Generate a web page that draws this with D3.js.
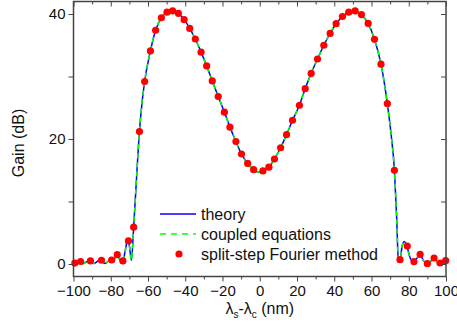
<!DOCTYPE html>
<html>
<head>
<meta charset="utf-8">
<script src="https://cdn.jsdelivr.net/npm/d3@7"></script>
<style>
  html, body { margin: 0; padding: 0; background: #fff; }
  svg { display: block; font-family: "Liberation Sans", Arial, sans-serif; }
</style>
</head>
<body>
<svg id="chart" width="457" height="333"></svg>
<script>
// Signal detuning (nm) and gain (dB) of the parametric amplifier

// theory curve
const theoryX = [-100, -97.5, -95, -92, -89, -86, -83, -80.5, -79, -76.8, -75, -73.6, -72.3, -71, -70, -68.9,
  -67.7, -66.2, -64.6, -63.2, -61.8, -58.7, -55.9, -52.8, -49.8, -46.8, -43.7, -40.6, -37.6, -34.6, -31.5,
  -28.5, -25.5, -22.3, -19.0, -16.0, -12.8, -9.8, -6.5, -3.3, -0.8, 1.7, 4.9, 7.9, 11.2, 14.4, 17.6, 21.3,
  24.4, 27.6, 31.0, 34.4, 37.8, 41.0, 44.4, 47.8, 51.2, 54.6, 58.2, 61.6, 65.1, 68.5, 70.5, 72.3, 73.5,
  74.4, 75.3, 76.3, 77.5, 78.8, 80.5, 82.2, 83.8, 86, 88, 90, 92, 93.6, 95.3, 97, 99, 100];
const theoryGain = [0.05, 0.35, 0.05, 0.45, 0.1, 0.6, 0.1, 0.6, 0.3, 1.5, 0.6, 0.4, 2.0, 3.8, 2.9, 0.6,
  5.9, 13.5, 21.2, 25.8, 29.2, 34.1, 37.4, 39.4, 40.3, 40.5, 40.1, 39.1, 37.7, 36.0, 33.9,
  31.7, 29.3, 26.8, 24.3, 21.9, 19.6, 17.6, 16.1, 15.1, 14.7, 14.9, 15.5, 16.8, 18.6, 20.7, 23.0, 25.4,
  28.05, 30.5, 32.8, 35.0, 36.9, 38.45, 39.6, 40.3, 40.5, 39.9, 38.5, 35.95, 31.97, 25.66, 20.8, 15.0, 7.5,
  0.8, 0.6, 2.6, 3.6, 3.1, 1.2, 0.35, 0.7, 1.5, 0.5, 0.05, 0.5, 0.95, 0.3, 0.15, 0.45, 0.6];

// coupled-equation model (agrees with theory to drawing precision)
const coupledX = [-100, -97.5, -95, -92, -89, -86, -83, -80.5, -79, -76.8, -75, -73.6, -72.3, -71, -70, -68.9,
  -67.7, -66.2, -64.6, -63.2, -61.8, -58.7, -55.9, -52.8, -49.8, -46.8, -43.7, -40.6, -37.6, -34.6, -31.5,
  -28.5, -25.5, -22.3, -19.0, -16.0, -12.8, -9.8, -6.5, -3.3, -0.8, 1.7, 4.9, 7.9, 11.2, 14.4, 17.6, 21.3,
  24.4, 27.6, 31.0, 34.4, 37.8, 41.0, 44.4, 47.8, 51.2, 54.6, 58.2, 61.6, 65.1, 68.5, 70.5, 72.3, 73.5,
  74.4, 75.3, 76.3, 77.5, 78.8, 80.5, 82.2, 83.8, 86, 88, 90, 92, 93.6, 95.3, 97, 99, 100];
const coupledGain = [0.05, 0.35, 0.05, 0.45, 0.1, 0.6, 0.1, 0.6, 0.3, 1.5, 0.6, 0.4, 2.0, 3.8, 2.9, 0.6,
  5.9, 13.5, 21.2, 25.8, 29.2, 34.1, 37.4, 39.4, 40.3, 40.5, 40.1, 39.1, 37.7, 36.0, 33.9,
  31.7, 29.3, 26.8, 24.3, 21.9, 19.6, 17.6, 16.1, 15.1, 14.7, 14.9, 15.5, 16.8, 18.6, 20.7, 23.0, 25.4,
  28.05, 30.5, 32.8, 35.0, 36.9, 38.45, 39.6, 40.3, 40.5, 39.9, 38.5, 35.95, 31.97, 25.66, 20.8, 15.0, 7.5,
  0.8, 0.6, 2.6, 3.6, 3.1, 1.2, 0.35, 0.7, 1.5, 0.5, 0.05, 0.5, 0.95, 0.3, 0.15, 0.45, 0.6];

// split-step Fourier simulation points
const ssfX = [-99.3, -96.2, -90.9, -85.0, -79.5, -76.5, -73.5, -70.5, -67.7, -64.6, -61.8, -58.7, -55.9,
  -52.8, -49.8, -46.8, -43.7, -40.6, -37.6, -34.6, -31.5, -28.5, -25.5, -22.3, -19.0, -16.0, -12.8, -9.8,
  -6.5, -3.3, 1.7, 4.9, 7.9, 11.2, 14.4, 17.6, 21.3, 24.4, 27.6, 31.0, 34.4, 37.8, 41.0, 44.4, 47.8, 51.2,
  54.6, 58.2, 61.6, 65.1, 68.5, 72.3, 75.3, 79.2, 82.8, 86.1, 90.0, 93.6, 96.8, 99.8];
const ssfGain = [0.15, 0.4, 0.5, 0.6, 0.64, 1.5, 0.5, 3.7, 5.9, 21.2, 29.2, 34.1, 37.4,
  39.4, 40.3, 40.5, 40.1, 39.1, 37.7, 36.0, 33.9, 31.7, 29.3, 26.8, 24.3, 21.9, 19.6, 17.6,
  16.1, 15.1, 14.9, 15.5, 16.8, 18.6, 20.7, 23.0, 25.4, 28.05, 30.5, 32.8, 35.0, 36.9, 38.45, 39.6, 40.3, 40.5,
  39.9, 38.5, 35.95, 31.97, 25.66, 15.0, 0.69, 2.87, 0.37, 1.53, 0.05, 0.96, 0.16, 0.53];

const xTicks = [-100, -80, -60, -40, -20, 0, 20, 40, 60, 80, 100];
const xMinor = [-90, -70, -50, -30, -10, 10, 30, 50, 70, 90];
const yTicks = [0, 20, 40];
const yMinor = [10, 30];
const legendLabels = ["theory", "coupled equations", "split-step Fourier method"];

const plotL = 73.5, plotR = 446, plotT = 1.5, plotB = 276.5;
const svg = d3.select("#chart");
const x = d3.scaleLinear().domain([-100, 100]).range([plotL, plotR]);
const y = d3.scaleLinear().domain([-2, 42]).range([plotB, plotT]);

const axisColor = "#444";

// curves
const line = d3.line().x(d => x(d[0])).y(d => y(d[1])).curve(d3.curveMonotoneX);
const theory = d3.zip(theoryX, theoryGain);
const coupled = d3.zip(coupledX, coupledGain);

svg.append("path").datum(theory).attr("d", line)
  .attr("fill", "none").attr("stroke", "#0000ff").attr("stroke-width", 1.5);
svg.append("path").datum(coupled).attr("d", line)
  .attr("fill", "none").attr("stroke", "#00ff00").attr("stroke-width", 1.5)
  .attr("stroke-dasharray", "5,4");

svg.append("g").selectAll("circle").data(d3.zip(ssfX, ssfGain)).join("circle")
  .attr("cx", d => x(d[0])).attr("cy", d => y(d[1])).attr("r", 3.6)
  .attr("fill", "#ff0000");

// axes
function styleAxis(g) {
  g.selectAll(".domain").remove();
  g.selectAll("line").attr("stroke", axisColor).attr("stroke-width", 1);
  g.selectAll("text").attr("fill", "#111").style("font-size", "15px")
    .style("font-family", "'Liberation Sans', Arial, sans-serif");
}

svg.append("g").attr("transform", `translate(0,${plotB})`)
  .call(d3.axisBottom(x).tickValues(xTicks).tickSize(5).tickPadding(4).tickFormat(d3.format("d")))
  .call(styleAxis);
svg.append("g").attr("transform", `translate(0,${plotB})`)
  .call(d3.axisBottom(x).tickValues(xMinor).tickSize(3).tickFormat(""))
  .call(styleAxis);
svg.append("g").attr("transform", `translate(0,${plotT})`)
  .call(d3.axisBottom(x).tickValues(xTicks).tickSize(5).tickFormat(""))
  .call(styleAxis);
svg.append("g").attr("transform", `translate(0,${plotT})`)
  .call(d3.axisBottom(x).tickValues(xMinor).tickSize(3).tickFormat(""))
  .call(styleAxis);

svg.append("g").attr("transform", `translate(${plotL},0)`)
  .call(d3.axisLeft(y).tickValues(yTicks).tickSize(5).tickPadding(3).tickFormat(d3.format("d")))
  .call(styleAxis);
svg.append("g").attr("transform", `translate(${plotL},0)`)
  .call(d3.axisLeft(y).tickValues(yMinor).tickSize(5).tickFormat(""))
  .call(styleAxis);
svg.append("g").attr("transform", `translate(${plotR},0)`)
  .call(d3.axisLeft(y).tickValues(yTicks).tickSize(5).tickFormat(""))
  .call(styleAxis);
svg.append("g").attr("transform", `translate(${plotR},0)`)
  .call(d3.axisLeft(y).tickValues(yMinor).tickSize(5).tickFormat(""))
  .call(styleAxis);

// frame
svg.append("rect").attr("x", plotL).attr("y", plotT)
  .attr("width", plotR - plotL).attr("height", plotB - plotT)
  .attr("fill", "none").attr("stroke", axisColor).attr("stroke-width", 1.5);

// axis titles
const xt = svg.append("text").attr("x", (plotL + plotR) / 2).attr("y", 314)
  .attr("text-anchor", "middle").style("font-size", "16px").attr("fill", "#111");
xt.append("tspan").text("λ");
xt.append("tspan").text("s").attr("dy", 4).style("font-size", "10px");
xt.append("tspan").text("-λ").attr("dy", -4);
xt.append("tspan").text("c").attr("dy", 4).style("font-size", "10px");
xt.append("tspan").text(" (nm)").attr("dy", -4);

svg.append("text").attr("transform", "translate(24,143) rotate(-90)")
  .attr("text-anchor", "middle").style("font-size", "16px").attr("fill", "#111")
  .text("Gain (dB)");

// legend
const lg = svg.append("g");
const rows = [214, 234, 254];
lg.append("line").attr("x1", 160).attr("x2", 196).attr("y1", rows[0]).attr("y2", rows[0])
  .attr("stroke", "#0000ff").attr("stroke-width", 1.5);
lg.append("line").attr("x1", 160).attr("x2", 196).attr("y1", rows[1]).attr("y2", rows[1])
  .attr("stroke", "#00ff00").attr("stroke-width", 1.5).attr("stroke-dasharray", "6,5");
lg.append("circle").attr("cx", 179).attr("cy", rows[2]).attr("r", 3.6).attr("fill", "#ff0000");
lg.selectAll("text").data(legendLabels).join("text")
  .attr("x", 201).attr("y", (d, i) => rows[i] + 5.5)
  .style("font-size", "16px").attr("fill", "#111").text(d => d);
</script>
</body>
</html>
